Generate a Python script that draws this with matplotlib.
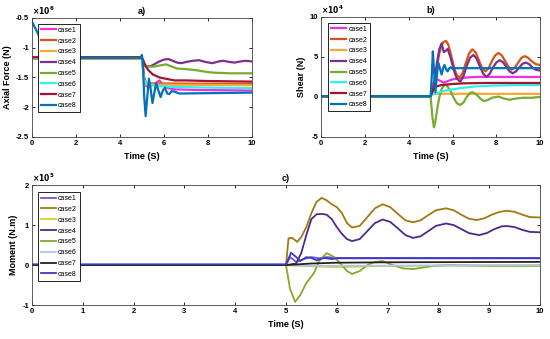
"""
Axial force, shear and moment time histories for 8 load cases.
"""

import matplotlib
matplotlib.use("Agg")
import matplotlib.pyplot as plt

plt.rcParams["font.family"] = ["Liberation Sans", "DejaVu Sans"]
plt.rcParams["font.weight"] = "bold"

CASES = ["case1", "case2", "case3", "case4", "case5", "case6", "case7", "case8"]

# ---- a) axial force (x 1e6 N) ----
A1_T = [0, 5.0, 5.1, 5.2, 5.4, 5.6, 5.8, 5.95, 6.2, 6.5, 7.5, 10]
A1_Y = [-1.17, -1.17, -1.5, -1.65, -1.64, -1.6, -1.55, -1.62, -1.68, -1.7, -1.71, -1.72]
A2_T = [0, 5.0, 5.1, 5.2, 10]
A2_Y = [-1.18, -1.18, -1.5, -1.6, -1.61]
A3_T = [0, 5.0, 5.08, 5.12, 5.2, 10]
A3_Y = [-1.18, -1.18, -1.5, -1.6, -1.62, -1.63]
A4_T = [0, 5.0, 5.1, 5.2, 5.4, 5.6, 5.8, 6.0, 6.2, 6.4, 6.6, 6.8, 7.0, 7.3, 7.6,
        7.9, 8.2, 8.5, 8.7, 9.0, 9.2, 9.5, 9.7, 10]
A4_Y = [-1.17, -1.17, -1.27, -1.31, -1.31, -1.27, -1.23, -1.2, -1.19, -1.22, -1.25, -1.26,
        -1.24, -1.22, -1.21, -1.24, -1.26, -1.23, -1.22, -1.24, -1.25, -1.23, -1.22, -1.23]
A5_T = [0, 5.0, 5.1, 5.2, 5.5, 5.8, 6.1, 6.3, 6.6, 7.0, 7.5, 8.0, 8.3, 9.0, 10]
A5_Y = [-1.18, -1.18, -1.28, -1.31, -1.32, -1.3, -1.28, -1.31, -1.35, -1.36, -1.38,
        -1.41, -1.42, -1.43, -1.43]
A6_T = [0, 5.0, 5.1, 5.3, 5.6, 6.5, 8.0, 10]
A6_Y = [-1.17, -1.17, -1.55, -1.62, -1.64, -1.66, -1.67, -1.68]
A7_T = [0, 4.98, 5.05, 5.15, 5.3, 5.5, 5.8, 6.2, 6.5, 7.0, 8.0, 10]
A7_Y = [-1.16, -1.16, -1.2, -1.3, -1.38, -1.45, -1.5, -1.53, -1.55, -1.55, -1.56, -1.57]
A8_T = [0, 0.3, 0.6, 0.9, 4.95, 5.0, 5.05, 5.1, 5.17, 5.25, 5.32, 5.4, 5.48, 5.57,
        5.65, 5.75, 5.85, 5.95, 6.05, 6.15, 6.25, 6.35, 6.5, 6.7, 10]
A8_Y = [-0.56, -0.78, -1.05, -1.17, -1.17, -1.12, -1.3, -1.8, -2.15, -1.8, -1.52, -1.7,
        -1.93, -1.75, -1.6, -1.72, -1.83, -1.72, -1.67, -1.77, -1.78, -1.73, -1.74,
        -1.77, -1.755]

# ---- b) shear (x 1e4 N) ----
B1_T = [0, 5.0, 5.1, 5.2, 5.3, 5.45, 5.6, 5.8, 6.0, 6.5, 7.0, 10]
B1_Y = [0.1, 0.1, 1.5, 2.1, 2.2, 2.0, 1.8, 2.0, 2.2, 2.4, 2.5, 2.5]
B2_T = [0, 5.0, 5.1, 5.2, 5.3, 5.4, 5.5, 5.6, 5.7, 5.8, 5.9, 6.0, 6.1, 6.2, 6.3,
        6.45, 6.6, 6.75, 6.9, 7.05, 7.2, 7.35, 7.5, 7.65, 7.8, 7.95, 8.1, 8.25,
        8.4, 8.55, 8.7, 8.85, 9.0, 9.15, 9.3, 9.45, 9.6, 9.8, 10]
B2_Y = [0.1, 0.1, 1.0, 2.5, 4.0, 5.5, 6.5, 6.9, 7.0, 6.6, 5.6, 4.5, 3.4, 2.7, 2.4,
        2.9, 4.2, 5.4, 5.95, 5.6, 4.6, 3.6, 3.2, 3.6, 4.5, 5.2, 5.5, 5.2,
        4.5, 3.8, 3.4, 3.7, 4.3, 4.9, 5.1, 4.9, 4.5, 4.1, 4.0]
B3_T = [0, 5.0, 5.05, 10]
B3_Y = [0.05, 0.05, 0.4, 0.38]
B4_T = [0, 5.0, 5.1, 5.2, 5.3, 5.4, 5.5, 5.6, 5.7, 5.78, 5.9, 6.0, 6.1, 6.2, 6.35,
        6.5, 6.65, 6.8, 6.95, 7.1, 7.25, 7.4, 7.55, 7.7, 7.85, 8.0, 8.15, 8.3,
        8.45, 8.6, 8.75, 8.9, 9.05, 9.2, 9.35, 9.5, 9.65, 9.8, 10]
B4_Y = [0.1, 0.1, 0.8, 2.5, 4.5, 6.0, 6.7, 5.6, 5.8, 6.0, 5.0, 4.0, 3.0, 2.3, 1.9,
        2.6, 3.9, 4.9, 5.25, 4.8, 3.8, 2.9, 2.5, 2.9, 3.7, 4.3, 4.6, 4.35,
        3.8, 3.2, 2.96, 3.2, 3.7, 4.15, 4.3, 4.1, 3.7, 3.4, 3.3]
B5_T = [0, 5.0, 5.08, 5.15, 5.22, 5.3, 5.4, 5.5, 5.62, 5.75, 5.9, 6.05, 6.2, 6.35,
        6.5, 6.65, 6.8, 6.9, 7.05, 7.2, 7.35, 7.45, 7.6, 7.8, 8.1, 8.35, 8.6,
        8.9, 9.2, 9.6, 10]
B5_Y = [0, 0, -2.5, -3.8, -3.0, -1.5, 0.0, 1.0, 1.5, 1.4, 0.8, -0.1, -0.8, -1.0,
        -0.7, 0.0, 0.5, 0.6, 0.4, 0.0, -0.4, -0.5, -0.4, -0.1, 0.05, -0.2, -0.35,
        -0.2, -0.1, -0.1, 0.0]
B6_T = [0, 5.0, 5.05, 5.3, 5.6, 6.0, 6.5, 7.0, 7.5, 8.0, 9.0, 10]
B6_Y = [0.1, 0.1, 0.3, 0.5, 0.75, 0.95, 1.15, 1.3, 1.38, 1.43, 1.48, 1.5]
B7_T = [0, 5.0, 5.1, 5.25, 5.5, 6.0, 6.5, 7.5, 10]
B7_Y = [0.1, 0.1, 0.8, 1.3, 1.5, 1.62, 1.7, 1.75, 1.75]
B8_T = [0, 5.0, 5.05, 5.1, 5.15, 5.22, 5.28, 5.35, 5.43, 5.5, 5.57, 5.63, 5.7,
        5.77, 5.85, 5.92, 6.0, 6.1, 10]
B8_Y = [0.1, 0.1, 2.5, 5.7, 3.5, 0.6, 2.5, 4.3, 3.5, 2.8, 3.6, 4.0, 3.5,
        3.2, 3.6, 3.7, 3.5, 3.6, 3.6]

# ---- c) moment (x 1e5 N.m) ----
C1_T = [0, 5.0, 5.08, 5.2, 5.35, 5.5, 5.65, 5.8, 6.0, 10]
C1_Y = [0, 0, 0.2, 0.08, 0.15, 0.2, 0.17, 0.2, 0.18, 0.18]
C2_T = [0, 5.0, 5.05, 5.12, 5.22, 5.3, 5.4, 5.5, 5.6, 5.7, 5.8, 5.9, 6.0, 6.1,
        6.2, 6.3, 6.45, 6.6, 6.75, 6.9, 7.05, 7.2, 7.35, 7.5, 7.65, 7.8, 7.95,
        8.15, 8.3, 8.45, 8.6, 8.75, 8.9, 9.05, 9.2, 9.35, 9.5, 9.65, 9.8, 10]
C2_Y = [0, 0, 0.67, 0.68, 0.58, 0.7, 0.95, 1.3, 1.58, 1.68, 1.62, 1.52, 1.45, 1.3,
        1.05, 0.94, 0.98, 1.2, 1.42, 1.52, 1.45, 1.28, 1.12, 1.07, 1.12, 1.25, 1.37,
        1.42, 1.37, 1.26, 1.16, 1.125, 1.17, 1.26, 1.33, 1.36, 1.33, 1.26, 1.2, 1.19]
C3_T = [0, 5.0, 5.5, 6.0, 7.0, 10]
C3_Y = [0, 0, -0.03, -0.05, -0.02, 0.0]
C4_T = [0, 5.0, 5.2, 5.3, 5.4, 5.5, 5.6, 5.7, 5.8, 5.9, 6.0, 6.1, 6.2, 6.3, 6.45,
        6.6, 6.75, 6.9, 7.05, 7.2, 7.35, 7.5, 7.65, 7.8, 7.95, 8.15, 8.3, 8.45,
        8.6, 8.8, 8.95, 9.1, 9.25, 9.35, 9.5, 9.65, 9.8, 10]
C4_Y = [0, 0, 0.04, 0.3, 0.75, 1.15, 1.27, 1.28, 1.26, 1.15, 0.95, 0.78, 0.65, 0.6,
        0.65, 0.85, 1.05, 1.14, 1.08, 0.92, 0.75, 0.68, 0.72, 0.85, 0.98, 1.04, 1.0,
        0.9, 0.8, 0.75, 0.8, 0.9, 0.97, 0.975, 0.95, 0.88, 0.83, 0.82]
C5_T = [0, 5.0, 5.08, 5.18, 5.28, 5.4, 5.55, 5.65, 5.8, 5.95, 6.1, 6.2, 6.3, 6.45,
        6.6, 6.75, 6.9, 7.1, 7.3, 7.5, 7.7, 7.9, 8.2, 9.0, 10]
C5_Y = [0, 0, -0.6, -0.92, -0.75, -0.45, -0.2, 0.1, 0.3, 0.2, 0.0, -0.15, -0.22,
        -0.15, 0.0, 0.08, 0.1, 0.0, -0.08, -0.1, -0.06, -0.02, 0.0, -0.02, -0.02]
C6_T = [0, 5.0, 5.5, 10]
C6_Y = [0, 0, -0.02, 0.0]
C7_T = [0, 5.0, 5.5, 6.0, 7.0, 10]
C7_Y = [0, 0, 0.04, 0.06, 0.07, 0.08]
C8_T = [0, 5.0, 5.1, 5.2, 5.28, 5.4, 5.5, 5.6, 5.75, 5.9, 6.0, 10]
C8_Y = [0.02, 0.02, 0.31, 0.2, 0.1, 0.2, 0.18, 0.12, 0.18, 0.15, 0.17, 0.17]

COLORS_AB = ["#f030e0", "#d95319", "#f7a832", "#7e2f8e", "#77ac30", "#30f0ee", "#a2142f", "#0072bd"]
COLORS_C = ["#7a4fe0", "#a07a10", "#d8d020", "#4b2a8e", "#88a828", "#a8c8f0", "#2a2018", "#3a3ac8"]


def style_axes(ax, xticks, yticks, yticklabels, ylabel, title, power, ylim):
    ax.set_xlim(0, 10)
    ax.set_ylim(*ylim)
    ax.set_xticks(xticks)
    ax.set_yticks(yticks)
    ax.set_yticklabels(yticklabels)
    ax.tick_params(direction="in", top=True, right=True, labelsize=5.5, length=2.5, width=0.6, pad=2)
    for s in ax.spines.values():
        s.set_linewidth(0.6)
        s.set_color("#444444")
    ax.set_xlabel("Time (S)", fontsize=6.5, fontweight="bold", labelpad=4)
    ax.set_ylabel(ylabel, fontsize=6.5, fontweight="bold", labelpad=3)
    ax.set_title(title, fontsize=6.5, fontweight="bold", pad=3)
    ax.text(0.0, 1.01, r"$\times10^{%d}$" % power, transform=ax.transAxes,
            fontsize=5.5, va="bottom", ha="left")


def add_legend(ax, x, y):
    leg = ax.legend(loc="upper left", bbox_to_anchor=(x, y), fontsize=5, handlelength=2.2,
                    handletextpad=0.3, labelspacing=0.55, borderpad=0.4,
                    fancybox=False, framealpha=1, edgecolor="black", borderaxespad=0)
    leg.get_frame().set_linewidth(0.6)
    for t in leg.get_texts():
        t.set_fontweight("normal")


def main() -> None:
    fig = plt.figure(figsize=(5.5, 3.39), dpi=100)
    ax_a = fig.add_axes([0.058, 0.596, 0.400, 0.351])
    ax_b = fig.add_axes([0.584, 0.596, 0.398, 0.354])
    ax_c = fig.add_axes([0.058, 0.100, 0.924, 0.354])

    data_a = [(A1_T, A1_Y), (A2_T, A2_Y), (A3_T, A3_Y), (A4_T, A4_Y),
              (A5_T, A5_Y), (A6_T, A6_Y), (A7_T, A7_Y), (A8_T, A8_Y)]
    data_b = [(B1_T, B1_Y), (B2_T, B2_Y), (B3_T, B3_Y), (B4_T, B4_Y),
              (B5_T, B5_Y), (B6_T, B6_Y), (B7_T, B7_Y), (B8_T, B8_Y)]
    data_c = [(C1_T, C1_Y), (C2_T, C2_Y), (C3_T, C3_Y), (C4_T, C4_Y),
              (C5_T, C5_Y), (C6_T, C6_Y), (C7_T, C7_Y), (C8_T, C8_Y)]

    for (t, y), c, name in zip(data_a, COLORS_AB, CASES):
        ax_a.plot(t, y, color=c, lw=1.6, label=name)
    for (t, y), c, name in zip(data_b, COLORS_AB, CASES):
        ax_b.plot(t, y, color=c, lw=1.6, label=name)
    for (t, y), c, name in zip(data_c, COLORS_C, CASES):
        ax_c.plot(t, y, color=c, lw=1.3, label=name)

    style_axes(ax_a, range(0, 11, 2), [-2.5, -2, -1.5, -1, -0.5],
               ["-2.5", "-2", "-1.5", "-1", "-0.5"], "Axial Force (N)", "a)", 6, (-2.5, -0.5))
    style_axes(ax_b, range(0, 11, 2), [-5, 0, 5, 10],
               ["-5", "0", "5", "10"], "Shear (N)", "b)", 4, (-5, 10))
    style_axes(ax_c, range(0, 11, 1), [-1, 0, 1, 2],
               ["-1", "0", "1", "2"], "Moment (N.m)", "c)", 5, (-1, 2))

    add_legend(ax_a, 0.027, 0.95)
    add_legend(ax_b, 0.032, 0.95)
    add_legend(ax_c, 0.012, 0.94)

    fig.savefig("out.png", dpi=100)
    plt.close(fig)


if __name__ == "__main__":
    main()
